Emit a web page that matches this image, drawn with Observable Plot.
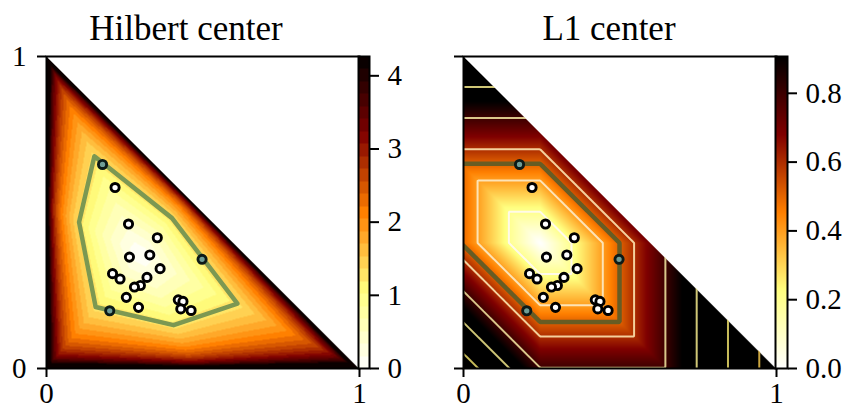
<!DOCTYPE html>
<html>
<head>
<meta charset="utf-8">
<script src="https://cdn.jsdelivr.net/npm/d3@7"></script>
<script src="https://cdn.jsdelivr.net/npm/@observablehq/plot@0.6"></script>
<style>
  body { margin: 0; background: #fff; }
  #fig { position: relative; width: 849px; height: 408px; overflow: hidden; font-family: "Liberation Serif", serif; background: #fff; }
  #fig > * { position: absolute; }
  .title { font-size: 35px; line-height: 1; white-space: nowrap; color: #000; }
</style>
</head>
<body>
<div id="fig"></div>
<script>
// ---------------- data ----------------
const titles = ["Hilbert center", "L1 center"];
const pointX = [0.179,0.219,0.262,0.354,0.265,0.330,0.363,0.211,0.235,0.321,0.300,0.281,0.255,0.294,0.421,0.436,0.429,0.462,0.497,0.202];
const pointY = [0.654,0.580,0.463,0.419,0.357,0.364,0.320,0.304,0.287,0.292,0.266,0.261,0.228,0.196,0.220,0.215,0.191,0.186,0.350,0.185];
const onBall = [1,0,0,0,0,0,0,0,0,0,0,0,0,0,0,0,0,0,1,1];
const hilbertCenter = [0.300, 0.365];
const hilbertBallX = [0.153,0.104,0.157,0.406,0.610,0.401,0.153];
const hilbertBallY = [0.680,0.469,0.197,0.139,0.208,0.482,0.680];
const hilbertMax = 4.264;
const hilbertBands = 25;
const hilbertTicks = [0,1,2,3,4];
const l1Center = [0.245, 0.4025];
const l1Radius = 0.507;
const l1Max = 0.907;
const l1Ticks = [0,0.2,0.4,0.6,0.8];
const l1Levels = [0.2,0.4,0.6,0.8,1.0,1.2,1.4];
const l1LevelColors = ["#fffae8","#fde3b6","#f4d09c","#d9c68a","#cfc676","#c8bc5a","#c9a43e"];
const axisTicks = [0,1];
const simplexEdgeX = [0,1];
const simplexEdgeY = [1,0];

// ---------------- helpers ----------------
const points = pointX.map((x,i) => ({x, y: pointY[i], ball: onBall[i] === 1}));
const hilbertBall = hilbertBallX.map((x,i) => ({x, y: hilbertBallY[i]}));
const simplexEdge = simplexEdgeX.map((x,i) => ({x, y: simplexEdgeY[i]}));

function afmhotR(t) {
  const s = 1 - t;
  const c = v => Math.round(255 * Math.max(0, Math.min(1, v)));
  return `rgb(${c(2*s)},${c(2*s-0.5)},${c(2*s-1)})`;
}
function hilbert(x, y) {
  const z = 1 - x - y;
  if (z < 0) return NaN;
  if (x <= 0 || y <= 0 || z <= 0) return Infinity;
  const [cx, cy] = hilbertCenter, cz = 1 - cx - cy;
  const r = [x/cx, y/cy, z/cz];
  return Math.log(Math.max(...r) / Math.min(...r));
}
const step = hilbertMax / hilbertBands;
function band(v) {
  if (Number.isNaN(v)) return NaN;
  const k = Math.min(hilbertBands - 1, Math.floor(v / step));
  return (k + 0.5) * step;
}
function l1(x, y) {
  const [a, b] = l1Center;
  return Math.abs(x - a) + Math.abs(y - b) + Math.abs(x + y - a - b);
}

const FS = 29;
const font = {fontFamily: "Liberation Serif", fontSize: FS + "px", background: "transparent", overflow: "visible"};
const teal = "#6f9d96";

function panel({width, marginLeft, marginRight, max, fieldMarks, lineMarks, yLabels}) {
  return Plot.plot({
    width, height: 408, marginLeft, marginRight, marginTop: 56, marginBottom: 40,
    style: font,
    x: {domain: [0, 1], axis: null},
    y: {domain: [0, 1], axis: null},
    color: {type: "linear", domain: [0, max], interpolate: afmhotR, clamp: true},
    marks: [
      ...fieldMarks,
      Plot.areaY(simplexEdge, {x: "x", y1: "y", y2: 1, fill: "white"}),
      ...lineMarks,
      Plot.dot(points, {x: "x", y: "y", r: 4.1, fill: d => d.ball ? teal : "white", stroke: d => d.ball ? "#0c1a18" : "black", strokeWidth: 2.9}),
      Plot.frame({stroke: "black", strokeWidth: 2}),
      Plot.axisX({ticks: axisTicks, tickSize: 9, tickPadding: 4.5, strokeWidth: 2, fontSize: FS, tickFormat: d => String(d), label: null}),
      Plot.axisY({ticks: axisTicks, tickSize: 9, tickPadding: 11, strokeWidth: 2, fontSize: FS, tickFormat: yLabels ? (d => String(d)) : (() => ""), label: null})
    ]
  });
}

function colorbar({width, max, ticks, fmt, banded}) {
  return Plot.plot({
    width: width + 62, height: 408, marginLeft: 0, marginRight: 62, marginTop: 56, marginBottom: 40,
    style: font,
    x: {domain: [0, 1], axis: null},
    y: {domain: [0, max], axis: null},
    color: {type: "linear", domain: [0, max], interpolate: afmhotR, clamp: true},
    marks: [
      Plot.raster({x1: 0, x2: 1, y1: 0, y2: max, pixelSize: 1, fill: (x, y) => banded ? band(y) : y}),
      Plot.frame({stroke: "black", strokeWidth: 2}),
      Plot.axisY({anchor: "right", ticks, tickSize: 9, tickPadding: 9, strokeWidth: 2, fontSize: FS, tickFormat: fmt, label: null})
    ]
  });
}

const fig = document.getElementById("fig");
function place(el, left, top) { el.style.left = left + "px"; el.style.top = top + "px"; fig.appendChild(el); return el; }

// Left: Hilbert
place(panel({
  width: 370, marginLeft: 46, marginRight: 11, max: hilbertMax, yLabels: true,
  fieldMarks: [Plot.raster({x1: 0, x2: 1, y1: 0, y2: 1, pixelSize: 1, fill: (x, y) => band(hilbert(x, y))})],
  lineMarks: [Plot.line(hilbertBall, {x: "x", y: "y", stroke: "#7c9852", strokeWidth: 4.5, strokeLinejoin: "round"})]
}), 0, 0);

// Right: L1 (contours sampled past the frame and clipped, so no edge segments)
const ext = {x1: -0.1, x2: 1.1, y1: -0.1, y2: 1.1, pixelSize: 1, clip: true, value: l1, fill: "none"};
place(panel({
  width: 370, marginLeft: 43, marginRight: 14, max: l1Max, yLabels: false,
  fieldMarks: [
    Plot.raster({x1: 0, x2: 1, y1: 0, y2: 1, pixelSize: 1, fill: (x, y) => (x + y > 1 ? NaN : l1(x, y))}),
    ...l1Levels.map((lv, i) => Plot.contour({...ext, thresholds: [lv], stroke: l1LevelColors[i], strokeWidth: 2})),
    Plot.contour({...ext, thresholds: [l1Radius], stroke: "#675c24", strokeWidth: 4.5})
  ],
  lineMarks: []
}), 420, 0);

place(colorbar({width: 11, max: hilbertMax, ticks: hilbertTicks, fmt: d => String(d), banded: true}), 358, 0);
place(colorbar({width: 12, max: l1Max, ticks: l1Ticks, fmt: d3.format(".1f"), banded: false}), 775, 0);

// Titles
const titleCenters = [186, 609];
titles.forEach((t, i) => {
  const d = document.createElement("div");
  d.className = "title";
  d.textContent = t;
  fig.appendChild(d);
  const w = d.getBoundingClientRect().width;
  d.style.left = (titleCenters[i] - w / 2) + "px";
  d.style.top = "11px";
});
</script>
</body>
</html>
